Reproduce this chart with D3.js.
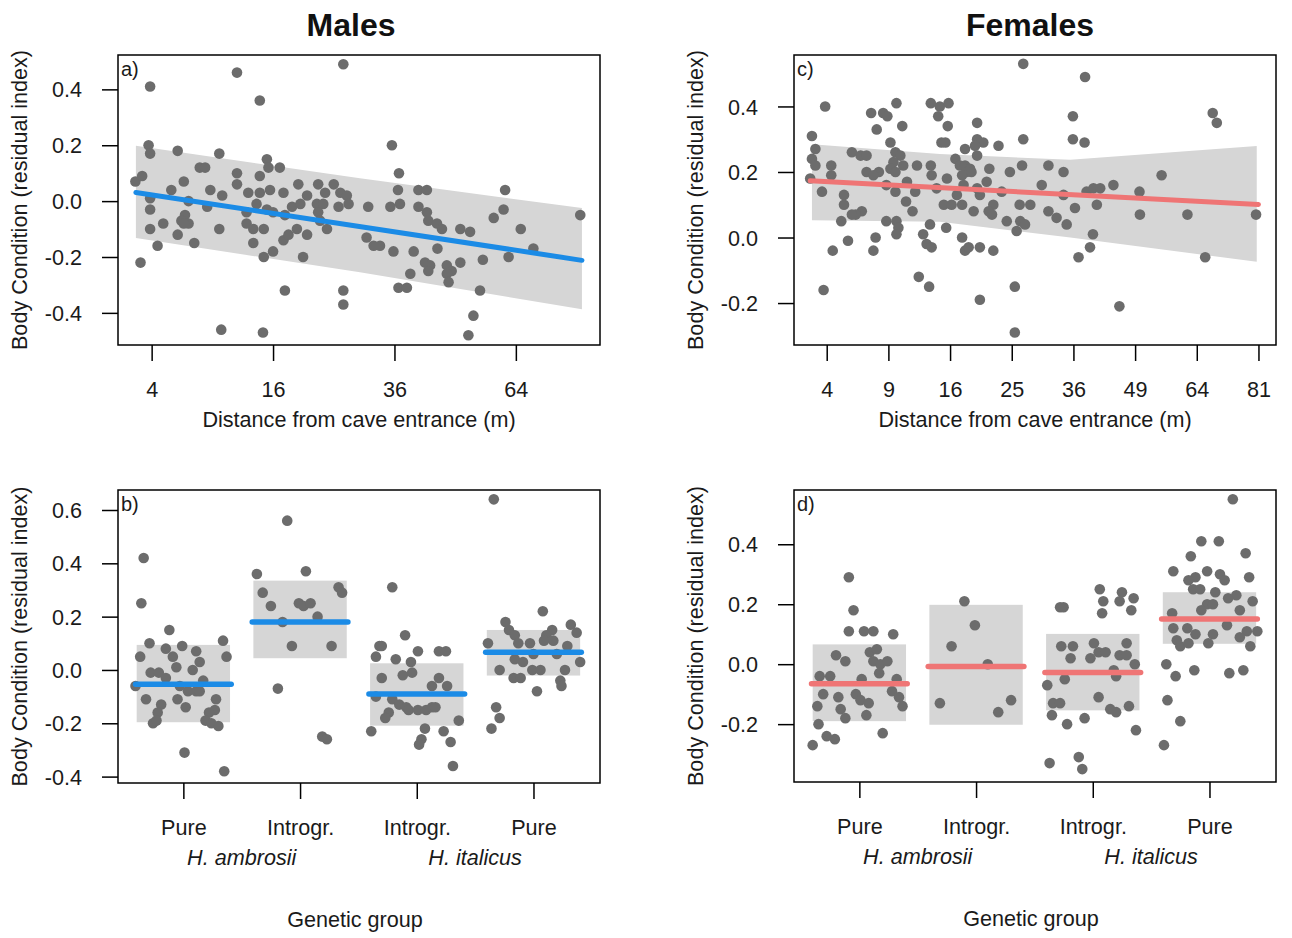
<!DOCTYPE html>
<html>
<head>
<meta charset="utf-8">
<script src="https://cdn.jsdelivr.net/npm/d3@7"></script>
<style>
  body { margin: 0; background: #fff; }
  svg { font-family: 'Liberation Sans', Arial, sans-serif; }
</style>
</head>
<body>
<div id="chart"></div>
<script>
// ---- data ----

// a) males: [distance (m), body condition]
const maleDistPoints = [
  [26.6,0.49],[11.6,0.46],[3.9,0.41],[14.3,0.36],[35.5,0.20],[3.8,0.20],[3.9,0.17],[5.9,0.18],[9.7,0.17],
  [7.8,0.12],[8.3,0.12],[15.2,0.15],[15.4,0.12],[16.9,0.12],[11.6,0.10],[11.6,0.06],[14.3,0.09],[3.0,0.07],
  [3.4,0.09],[5.4,0.04],[6.4,0.07],[8.8,0.04],[10.0,0.02],[12.9,0.03],[14.3,0.03],[15.6,0.04],[17.4,0.03],
  [19.5,0.06],[22.5,0.06],[25.0,0.06],[23.6,0.03],[26.1,0.03],[27.2,0.02],[27.5,-0.01],[25.8,-0.02],
  [36.9,0.10],[36.7,0.04],[40.9,0.04],[42.7,0.04],[3.9,0.01],[6.8,0.00],[8.5,-0.02],[13.9,-0.01],
  [15.2,-0.03],[16.0,-0.04],[12.7,-0.04],[18.6,-0.02],[19.8,-0.01],[20.8,0.02],[22.3,-0.01],[23.3,-0.01],
  [22.5,-0.04],[22.8,-0.07],[31.0,-0.02],[35.2,-0.02],[37.1,-0.01],[40.9,-0.02],[42.7,-0.04],[43.0,-0.07],
  [44.9,-0.08],[46.0,-0.10],[61.2,0.04],[58.3,-0.06],[60.8,-0.03],[82.1,-0.05],[3.9,-0.03],[6.5,-0.05],
  [6.2,-0.07],[6.8,-0.08],[6.4,-0.08],[4.8,-0.08],[3.9,-0.10],[9.7,-0.10],[12.7,-0.08],[13.5,-0.10],
  [14.8,-0.10],[17.6,-0.05],[17.4,-0.14],[18.1,-0.12],[19.3,-0.10],[20.8,-0.12],[23.9,-0.10],[30.7,-0.13],
  [32.0,-0.16],[33.2,-0.16],[35.8,-0.18],[39.9,-0.18],[45.0,-0.17],[50.2,-0.10],[52.5,-0.11],[65.3,-0.10],
  [68.7,-0.17],[62.1,-0.20],[55.6,-0.21],[5.9,-0.12],[7.3,-0.15],[4.4,-0.16],[13.5,-0.15],[14.8,-0.20],
  [16.0,-0.18],[20.2,-0.20],[3.3,-0.22],[42.3,-0.22],[43.4,-0.23],[43.0,-0.25],[47.1,-0.23],[48.2,-0.25],
  [50.2,-0.22],[47.1,-0.26],[47.5,-0.29],[39.2,-0.26],[36.8,-0.31],[38.5,-0.31],[54.9,-0.32],[17.6,-0.32],
  [26.6,-0.32],[26.6,-0.37],[53.3,-0.41],[9.9,-0.46],[14.7,-0.47],[52.1,-0.48]
]
const maleFitDist = [3.03, 82.6]
const maleFit = [0.031, -0.212]
const maleCiDist = [3.03, 29.5, 82.6]
const maleCiLow = [-0.132, -0.255, -0.387]
const maleCiHigh = [0.198, 0.082, -0.025]

// c) females
const femaleDistPoints = [
  [26.9,0.53],[38.3,0.49],[3.9,0.40],[7.4,0.38],[8.5,0.38],[8.9,0.37],[9.8,0.41],[13.6,0.41],[14.7,0.40],
  [15.8,0.41],[14.5,0.37],[15.7,0.34],[7.9,0.33],[10.4,0.34],[19.7,0.35],[35.9,0.37],[68.2,0.38],[69.3,0.35],
  [3.1,0.31],[26.9,0.30],[35.9,0.30],[38.2,0.29],[14.9,0.29],[15.4,0.29],[9.2,0.29],[18.0,0.27],[19.7,0.30],
  [20.6,0.29],[19.4,0.28],[22.9,0.28],[19.7,0.25],[3.3,0.27],[3.1,0.24],[3.3,0.22],[5.8,0.26],[6.5,0.25],
  [7.0,0.25],[4.3,0.22],[4.3,0.19],[9.7,0.26],[10.2,0.25],[9.5,0.23],[10.5,0.22],[9.2,0.21],[9.7,0.20],
  [12.0,0.22],[13.6,0.22],[13.7,0.19],[16.7,0.24],[17.3,0.22],[18.0,0.22],[18.7,0.21],[18.2,0.20],[17.6,0.19],
  [18.9,0.20],[21.5,0.21],[24.7,0.20],[26.7,0.22],[31.3,0.22],[34.1,0.20],[55.2,0.19],[7.0,0.20],[8.1,0.20],
  [7.6,0.19],[3.0,0.18],[3.7,0.14],[5.2,0.13],[5.2,0.10],[6.6,0.08],[6.1,0.07],[5.8,0.07],[5.0,0.05],
  [8.8,0.16],[9.7,0.14],[10.9,0.17],[11.8,0.14],[10.8,0.11],[11.5,0.08],[14.3,0.15],[15.6,0.18],[17.8,0.16],
  [16.9,0.13],[17.6,0.10],[20.1,0.13],[21.1,0.17],[19.7,0.15],[23.4,0.14],[30.1,0.16],[44.2,0.16],[38.6,0.14],
  [40.0,0.15],[41.4,0.15],[40.7,0.10],[34.1,0.13],[36.3,0.09],[50.0,0.14],[50.1,0.07],[61.6,0.07],[80.3,0.07],
  [15.2,0.10],[16.2,0.10],[19.2,0.08],[22.1,0.10],[21.4,0.08],[21.9,0.07],[26.3,0.10],[28.1,0.10],[31.3,0.08],
  [32.8,0.06],[34.7,0.04],[24.2,0.05],[26.4,0.05],[27.2,0.04],[25.8,0.02],[15.5,0.03],[8.8,0.05],[9.8,0.05],
  [10.0,0.03],[9.8,0.01],[13.5,0.04],[12.7,0.01],[7.8,0.00],[5.5,-0.01],[4.4,-0.04],[7.6,-0.04],[17.6,0.00],
  [18.0,-0.04],[18.5,-0.03],[20.1,-0.03],[22.1,-0.04],[13.1,-0.02],[13.7,-0.03],[39.9,0.01],[39.3,-0.03],
  [37.0,-0.06],[66.2,-0.06],[12.2,-0.12],[13.4,-0.15],[3.8,-0.16],[25.5,-0.15],[20.1,-0.19],[45.5,-0.21],
  [25.5,-0.29]
]
const femaleFitDist = [3.0, 81]
const femaleFit = [0.173, 0.101]
const femaleCiDist = [3.1, 14.7, 35.4, 80.5]
const femaleCiLow = [0.053, 0.048, 0.0, -0.074]
const femaleCiHigh = [0.285, 0.255, 0.237, 0.279]

// b), d) genetic groups: [group (1-4), horizontal jitter, body condition]
const groupLabels = ['Pure', 'Introgr.', 'Introgr.', 'Pure']
const speciesLabels = [['H. ambrosii', 1.5], ['H. italicus', 3.5]]

const maleGroupPoints = [
  [1,-0.34,0.42],[1,-0.36,0.25],[1,-0.12,0.15],[1,-0.29,0.10],[1,-0.37,0.05],[1,-0.41,-0.06],[1,-0.15,0.08],
  [1,-0.09,0.05],[1,-0.01,0.09],[1,-0.06,0.01],[1,-0.28,-0.01],[1,-0.21,-0.01],[1,-0.15,-0.03],[1,0.11,0.07],
  [1,0.14,0.03],[1,0.08,0.00],[1,0.17,-0.04],[1,0.34,0.11],[1,0.37,0.05],[1,-0.32,-0.11],[1,-0.19,-0.13],
  [1,-0.22,-0.16],[1,-0.26,-0.20],[1,-0.23,-0.19],[1,-0.05,-0.11],[1,0.02,-0.14],[1,0.04,-0.08],[1,0.11,-0.08],
  [1,0.14,-0.08],[1,-0.03,-0.06],[1,0.28,-0.11],[1,0.27,-0.15],[1,0.22,-0.16],[1,0.19,-0.19],[1,0.24,-0.20],
  [1,0.30,-0.21],[1,0.01,-0.31],[1,0.35,-0.38],
  [2,-0.11,0.56],[2,-0.37,0.36],[2,0.05,0.37],[2,-0.32,0.29],[2,-0.25,0.24],[2,-0.01,0.25],[2,0.03,0.24],
  [2,0.09,0.25],[2,0.33,0.31],[2,0.36,0.29],[2,0.15,0.20],[2,-0.15,0.18],[2,-0.07,0.09],[2,0.27,0.09],
  [2,-0.19,-0.07],[2,0.19,-0.25],[2,0.23,-0.26],
  [3,-0.21,0.31],[3,-0.10,0.13],[3,-0.32,0.09],[3,-0.30,0.09],[3,-0.35,0.05],[3,-0.18,0.04],[3,-0.05,0.03],
  [3,0.01,0.07],[3,0.19,0.07],[3,0.25,0.07],[3,-0.30,-0.03],[3,-0.12,-0.02],[3,-0.04,-0.01],[3,0.13,-0.06],
  [3,0.19,-0.03],[3,0.26,-0.06],[3,-0.35,-0.10],[3,-0.21,-0.11],[3,-0.15,-0.13],[3,-0.09,-0.14],[3,-0.07,-0.15],
  [3,0.01,-0.15],[3,0.08,-0.15],[3,0.13,-0.14],[3,0.16,-0.14],[3,-0.24,-0.16],[3,-0.27,-0.18],[3,0.36,-0.19],
  [3,-0.39,-0.23],[3,0.07,-0.22],[3,0.23,-0.23],[3,0.04,-0.26],[3,0.02,-0.28],[3,0.29,-0.27],[3,0.31,-0.36],
  [4,-0.34,0.64],[4,0.08,0.22],[4,-0.24,0.18],[4,-0.21,0.15],[4,-0.16,0.13],[4,0.16,0.15],[4,0.11,0.13],
  [4,0.32,0.17],[4,0.37,0.14],[4,-0.39,0.10],[4,-0.13,0.10],[4,-0.03,0.10],[4,0.09,0.11],[4,0.17,0.11],
  [4,0.29,0.09],[4,-0.16,0.04],[4,-0.09,0.03],[4,0.00,0.06],[4,0.20,0.06],[4,0.40,0.03],[4,-0.29,0.00],
  [4,-0.17,-0.03],[4,-0.11,-0.03],[4,-0.01,0.00],[4,0.06,0.00],[4,0.27,0.00],[4,0.23,-0.04],[4,0.24,-0.06],
  [4,0.03,-0.08],[4,-0.32,-0.14],[4,-0.29,-0.18],[4,-0.36,-0.22]
]
const maleGroupMean = [-0.054, 0.18, -0.09, 0.066]
const maleGroupLow = [-0.196, 0.044, -0.209, -0.021]
const maleGroupHigh = [0.094, 0.335, 0.025, 0.15]

const femaleGroupPoints = [
  [1,-0.09,0.29],[1,-0.05,0.18],[1,-0.09,0.11],[1,0.04,0.11],[1,0.12,0.11],[1,0.29,0.10],[1,-0.20,0.03],
  [1,-0.12,0.01],[1,0.09,0.04],[1,0.15,0.05],[1,0.12,0.01],[1,0.18,0.00],[1,0.24,0.01],[1,0.17,-0.03],
  [1,-0.34,-0.04],[1,-0.25,-0.04],[1,-0.31,-0.10],[1,-0.18,-0.11],[1,0.02,-0.05],[1,-0.03,-0.10],[1,0.01,-0.12],
  [1,0.08,-0.13],[1,0.32,-0.05],[1,0.28,-0.09],[1,0.34,-0.11],[1,0.37,-0.14],[1,-0.36,-0.14],[1,-0.16,-0.15],
  [1,-0.12,-0.18],[1,0.06,-0.17],[1,-0.35,-0.20],[1,-0.28,-0.24],[1,-0.21,-0.25],[1,0.20,-0.23],[1,-0.40,-0.27],
  [2,-0.10,0.21],[2,-0.01,0.13],[2,-0.21,0.06],[2,0.10,0.00],[2,-0.31,-0.13],[2,0.30,-0.12],[2,0.19,-0.16],
  [3,-0.28,0.19],[3,-0.25,0.19],[3,0.06,0.25],[3,0.09,0.21],[3,0.08,0.17],[3,0.25,0.24],[3,0.35,0.22],
  [3,0.23,0.21],[3,0.33,0.18],[3,-0.27,0.06],[3,-0.17,0.06],[3,-0.19,0.02],[3,0.01,0.07],[3,0.05,0.04],
  [3,-0.02,0.02],[3,0.11,0.04],[3,0.29,0.07],[3,0.23,0.03],[3,0.29,0.03],[3,0.36,0.00],[3,-0.24,-0.05],
  [3,0.18,-0.02],[3,0.20,-0.04],[3,-0.39,-0.07],[3,0.05,-0.11],[3,-0.34,-0.13],[3,-0.28,-0.13],[3,0.15,-0.15],
  [3,0.20,-0.16],[3,0.31,-0.14],[3,-0.35,-0.17],[3,-0.22,-0.20],[3,-0.07,-0.18],[3,0.37,-0.22],[3,-0.37,-0.33],
  [3,-0.12,-0.31],[3,-0.09,-0.35],
  [4,0.20,0.55],[4,-0.07,0.41],[4,0.08,0.41],[4,-0.16,0.36],[4,0.31,0.37],[4,-0.31,0.31],[4,-0.02,0.31],
  [4,-0.12,0.29],[4,-0.18,0.28],[4,0.09,0.30],[4,0.13,0.28],[4,0.34,0.29],[4,-0.14,0.25],[4,-0.08,0.25],
  [4,0.05,0.24],[4,0.23,0.23],[4,0.16,0.22],[4,0.37,0.21],[4,-0.02,0.20],[4,0.03,0.20],[4,0.26,0.18],
  [4,-0.07,0.18],[4,-0.32,0.17],[4,-0.31,0.12],[4,-0.19,0.12],[4,-0.12,0.10],[4,0.03,0.10],[4,0.15,0.13],
  [4,0.32,0.11],[4,0.41,0.11],[4,-0.28,0.08],[4,-0.25,0.06],[4,-0.18,0.07],[4,-0.01,0.07],[4,0.26,0.09],
  [4,0.35,0.06],[4,-0.37,0.00],[4,-0.29,-0.04],[4,-0.13,-0.02],[4,0.17,-0.03],[4,0.29,-0.02],[4,-0.36,-0.12],
  [4,-0.25,-0.19],[4,-0.39,-0.27]
]
const femaleGroupMean = [-0.065, -0.008, -0.028, 0.151]
const femaleGroupLow = [-0.19, -0.202, -0.154, 0.068]
const femaleGroupHigh = [0.066, 0.198, 0.101, 0.24]

// ---- styles ----
const W = 1292, H = 938
const POINT_COLOR = '#6c6c6c'
const BAND_COLOR = '#d6d6d6'
const BLUE = '#1b8be6'
const RED = '#ef7575'
const FONT = 21.6
const TICK = 16

const svg = d3.select('#chart').append('svg')
  .attr('width', W)
  .attr('height', H)

const panels = [
  { tag: 'a)', kind: 'dist', box: [118, 55, 600, 345], xDomain: [2.09, 88.1], xTicks: [4, 16, 36, 64],
    yDomain: [-0.515, 0.523], yTicks: [-0.4, -0.2, 0, 0.2, 0.4], color: BLUE,
    points: maleDistPoints, fitDist: maleFitDist, fit: maleFit, ciDist: maleCiDist, ciLow: maleCiLow, ciHigh: maleCiHigh },
  { tag: 'c)', kind: 'dist', box: [794, 55, 1276, 345], xDomain: [2.16, 86.2], xTicks: [4, 9, 16, 25, 36, 49, 64, 81],
    yDomain: [-0.328, 0.557], yTicks: [-0.2, 0, 0.2, 0.4], color: RED,
    points: femaleDistPoints, fitDist: femaleFitDist, fit: femaleFit, ciDist: femaleCiDist, ciLow: femaleCiLow, ciHigh: femaleCiHigh },
  { tag: 'b)', kind: 'group', box: [118, 490, 600, 783], yDomain: [-0.424, 0.675], yTicks: [-0.4, -0.2, 0, 0.2, 0.4, 0.6],
    color: BLUE, points: maleGroupPoints, mean: maleGroupMean, low: maleGroupLow, high: maleGroupHigh },
  { tag: 'd)', kind: 'group', box: [794, 490, 1276, 782], yDomain: [-0.393, 0.581], yTicks: [-0.2, 0, 0.2, 0.4],
    color: RED, points: femaleGroupPoints, mean: femaleGroupMean, low: femaleGroupLow, high: femaleGroupHigh }
]

/**
 * one panel: band, points, fitted line, box, axes
 */
const drawPanel = (p) => {
  const [x0, y0, x1, y1] = p.box
  const cx = (x0 + x1) / 2
  const y = d3.scaleLinear().domain(p.yDomain).range([y1, y0])
  const x = p.kind === 'dist'
    ? d3.scaleSqrt().domain(p.xDomain).range([x0, x1])
    : d3.scaleLinear().domain([0.44, 4.57]).range([x0, x1])

  const g = svg.append('g')

  if (p.kind === 'dist') {
    const ci = p.ciDist.map((d, i) => ({ d, lo: p.ciLow[i], hi: p.ciHigh[i] }))
    g.append('path')
      .datum(ci)
      .attr('fill', BAND_COLOR)
      .attr('d', d3.area().x(d => x(d.d)).y0(d => y(d.lo)).y1(d => y(d.hi)))

    g.append('g').selectAll('circle')
      .data(p.points)
      .join('circle')
      .attr('cx', d => x(d[0]))
      .attr('cy', d => y(d[1]))
      .attr('r', 5.3)
      .attr('fill', POINT_COLOR)

    g.append('path')
      .datum(p.fitDist.map((d, i) => [d, p.fit[i]]))
      .attr('fill', 'none')
      .attr('stroke', p.color)
      .attr('stroke-width', 5)
      .attr('stroke-linecap', 'round')
      .attr('d', d3.line().x(d => x(d[0])).y(d => y(d[1])))
  } else {
    const groups = p.mean.map((m, i) => ({ g: i + 1, m, lo: p.low[i], hi: p.high[i] }))
    g.append('g').selectAll('rect')
      .data(groups)
      .join('rect')
      .attr('x', d => x(d.g - 0.4))
      .attr('width', d => x(d.g + 0.4) - x(d.g - 0.4))
      .attr('y', d => y(d.hi))
      .attr('height', d => y(d.lo) - y(d.hi))
      .attr('fill', BAND_COLOR)

    g.append('g').selectAll('circle')
      .data(p.points)
      .join('circle')
      .attr('cx', d => x(d[0] + d[1]))
      .attr('cy', d => y(d[2]))
      .attr('r', 5.3)
      .attr('fill', POINT_COLOR)

    g.append('g').selectAll('line')
      .data(groups)
      .join('line')
      .attr('x1', d => x(d.g - 0.41))
      .attr('x2', d => x(d.g + 0.41))
      .attr('y1', d => y(d.m))
      .attr('y2', d => y(d.m))
      .attr('stroke', p.color)
      .attr('stroke-width', 5.5)
      .attr('stroke-linecap', 'round')
  }

  // box
  g.append('rect')
    .attr('x', x0).attr('y', y0)
    .attr('width', x1 - x0).attr('height', y1 - y0)
    .attr('fill', 'none')
    .attr('stroke', '#000')
    .attr('stroke-width', 1.5)

  // y axis
  const yAxis = g.append('g')
    .attr('transform', `translate(${x0},0)`)
    .call(d3.axisLeft(y).tickValues(p.yTicks).tickSize(TICK).tickPadding(20).tickFormat(d => d.toFixed(1)))
  yAxis.select('.domain').remove()

  // x axis
  const xAxis = g.append('g')
    .attr('transform', `translate(0,${y1})`)
    .call(p.kind === 'dist'
      ? d3.axisBottom(x).tickValues(p.xTicks).tickSize(TICK).tickPadding(21).tickFormat(d3.format('d'))
      : d3.axisBottom(x).tickValues([1, 2, 3, 4]).tickSize(TICK).tickPadding(21).tickFormat(d => groupLabels[d - 1]))
  xAxis.select('.domain').remove()

  ;[yAxis, xAxis].forEach(ax => {
    ax.selectAll('line').attr('stroke', '#000').attr('stroke-width', 1.5)
    ax.selectAll('text').attr('fill', '#1a1a1a').style('font-size', FONT + 'px').style('font-family', null)
  })
  yAxis.selectAll('text').attr('dy', '0.35em')

  // axis titles
  g.append('text')
    .attr('transform', `translate(${x0 - 91},${(y0 + y1) / 2}) rotate(-90)`)
    .attr('text-anchor', 'middle')
    .attr('font-size', FONT)
    .attr('fill', '#1a1a1a')
    .text('Body Condition (residual index)')

  if (p.kind === 'dist') {
    g.append('text')
      .attr('x', cx).attr('y', y1 + 82)
      .attr('text-anchor', 'middle')
      .attr('font-size', FONT)
      .attr('fill', '#1a1a1a')
      .text('Distance from cave entrance (m)')
  } else {
    g.append('g').selectAll('text')
      .data(speciesLabels)
      .join('text')
      .attr('x', d => x(d[1]))
      .attr('y', y1 + 82)
      .attr('text-anchor', 'middle')
      .attr('font-size', FONT)
      .attr('font-style', 'italic')
      .attr('fill', '#1a1a1a')
      .text(d => d[0])

    g.append('text')
      .attr('x', cx - 4).attr('y', y1 + 144)
      .attr('text-anchor', 'middle')
      .attr('font-size', FONT)
      .attr('fill', '#1a1a1a')
      .text('Genetic group')
  }

  // panel tag
  g.append('text')
    .attr('x', x0 + 3).attr('y', y0 + 21)
    .attr('font-size', 20)
    .attr('fill', '#1a1a1a')
    .text(p.tag)
}

panels.forEach(drawPanel)

// column titles
svg.append('g').selectAll('text')
  .data([['Males', 351], ['Females', 1030]])
  .join('text')
  .attr('x', d => d[1])
  .attr('y', 36)
  .attr('text-anchor', 'middle')
  .attr('font-size', 32)
  .attr('font-weight', 'bold')
  .attr('fill', '#111')
  .text(d => d[0])
</script>
</body>
</html>
